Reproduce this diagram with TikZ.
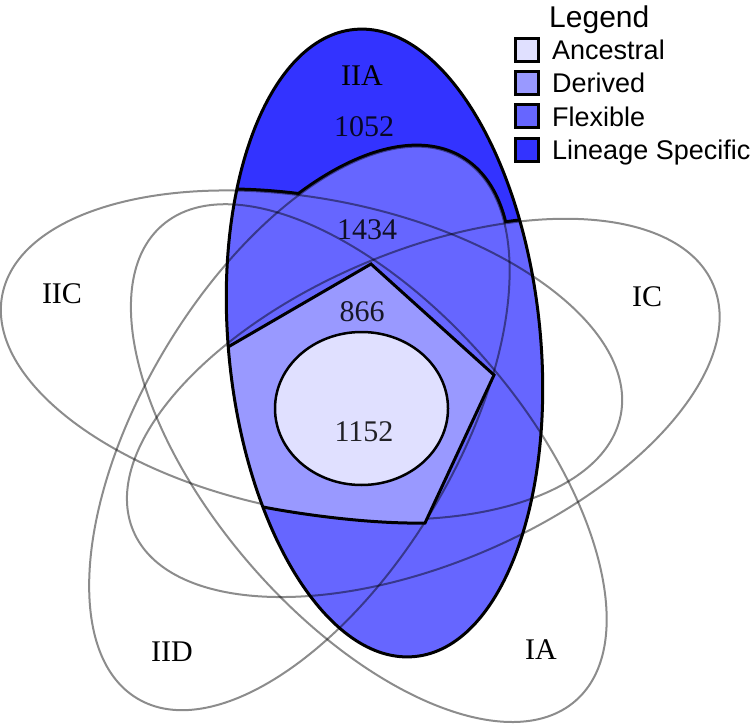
\documentclass[tikz,border=0pt]{standalone}
\usepackage{fontspec}
\setmainfont{Liberation Serif}
\newfontfamily\legfont{Liberation Sans}
\definecolor{cAnc}{HTML}{E0E0FF}
\definecolor{cDer}{HTML}{9999FF}
\definecolor{cFlex}{HTML}{6666FF}
\definecolor{cLin}{HTML}{3333FF}
\tikzset{
  eA/.style={rotate around={95.5:(cA)}},
  eC/.style={rotate around={23:(cC)}},
  eIA/.style={rotate around={-49:(cIA)}},
  eD/.style={rotate around={59:(cD)}},
  eIIC/.style={rotate around={169:(cIIC)}},
  ell/.style={x radius=315pt, y radius=156pt},
  graylin/.style={draw=black, draw opacity=0.45, line width=2pt},
  lab/.style={inner sep=0pt, font=\fontsize{30}{30}\selectfont},
  num/.style={inner sep=0pt, font=\fontsize{30}{30}\selectfont, text opacity=0.85},
  legbox/.style={draw=black, line width=3pt, minimum size=23pt, inner sep=0pt},
  legtxt/.style={anchor=base west, inner sep=0pt, font=\legfont\fontsize{27}{27}\selectfont}
}
\begin{document}
\begin{tikzpicture}[x=1pt,y=-1pt]
\useasboundingbox (0,0) rectangle (751,727);
\coordinate (cA) at (384.5,343);
\coordinate (cC) at (423.3,407.9);
\coordinate (cIA) at (368.8,463.1);
\coordinate (cD) at (299.4,428.4);
\coordinate (cIIC) at (311.5,355);
% IIA base (lineage specific)
\fill[cLin, eA] (cA) ellipse [ell];
% flexible = IIA inside union of others
\begin{scope}
  \clip[eA] (cA) ellipse [ell];
  \foreach \s/\c in {eC/cC, eIA/cIA, eD/cD, eIIC/cIIC}
    \draw[black, line width=6pt, \s] (\c) ellipse [ell];
  \foreach \s/\c in {eC/cC, eIA/cIA, eD/cD, eIIC/cIIC}
    \fill[cFlex, \s] (\c) ellipse [ell];
\end{scope}
% gray outlines
\foreach \s/\c in {eC/cC, eIA/cIA, eD/cD, eIIC/cIIC}
  \draw[graylin, \s] (\c) ellipse [ell];
% derived pentagon
\begin{scope}
  \clip[eA] (cA) ellipse [ell];
  \filldraw[fill=cDer, draw=black, line width=3pt, line join=miter]
    (197,365) -- (371,264) -- (494,375) -- (425,523)
    .. controls (375,524) and (310,516) .. (263,507) -- (215,495) -- cycle;
\end{scope}
% ancestral core
\filldraw[fill=cAnc, draw=black, line width=2.5pt] (361.5,408.5) ellipse [x radius=86.5pt, y radius=76.5pt];
% IIA outline
\draw[black, line width=3pt, eA] (cA) ellipse [ell];
% labels
\node[lab] (tIIA) at (362,76) {IIA};
\node[num] (n1052) at (364,127) {1052};
\node[num] (n1434) at (367,230) {1434};
\node[num] (n866) at (362,312) {866};
\node[num] (n1152) at (364,432) {1152};
\node[lab] (tIIC) at (62,294) {IIC};
\node[lab] (tIC) at (647,297) {IC};
\node[lab] (tIID) at (172,652) {IID};
\node[lab] (tIA) at (541,650) {IA};
% legend
\node[legtxt, font=\legfont\fontsize{30}{30}\selectfont] (legT) at (549,28) {Legend};
\node[legbox, fill=cAnc] (bAnc) at (526.5,50) {};
\node[legbox, fill=cDer] (bDer) at (526.5,83.5) {};
\node[legbox, fill=cFlex] (bFlex) at (526.5,116) {};
\node[legbox, fill=cLin] (bLin) at (526.5,150) {};
\node[legtxt] (lAnc) at (552,60) {Ancestral};
\node[legtxt] (lDer) at (552,93) {Derived};
\node[legtxt] (lFlex) at (552,127) {Flexible};
\node[legtxt] (lLin) at (552,160) {Lineage Specific};
\end{tikzpicture}
\end{document}
